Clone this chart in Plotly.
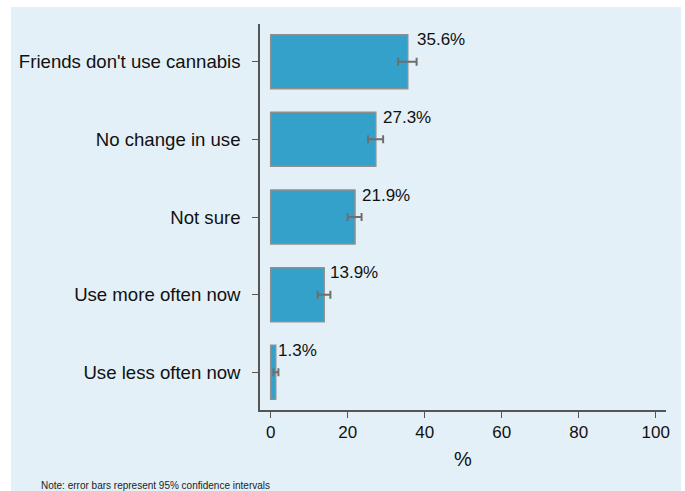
import plotly.graph_objects as go

# Responses and survey estimates (percent) with 95% CI bounds
categories = ["Friends don't use cannabis", "No change in use", "Not sure",
              "Use more often now", "Use less often now"]
values = [35.6, 27.3, 21.9, 13.9, 1.3]
ci_low = [33.1, 25.3, 20.0, 12.2, 0.7]
ci_high = [37.9, 29.2, 23.6, 15.5, 2.0]
x_ticks = [0, 20, 40, 60, 80, 100]
note_text = "Note: error bars represent 95% confidence intervals"

W, H = 685, 491
L, R, T, B = 260, 19, 24, 81

err_plus = [h - v for h, v in zip(ci_high, values)]
err_minus = [v - lo for v, lo in zip(values, ci_low)]

fig = go.Figure()
fig.add_trace(go.Bar(
    y=categories, x=values, orientation="h", width=0.695,
    marker=dict(color="#33a1c9", line=dict(color="#8f8f8f", width=1.5)),
    error_x=dict(type="data", symmetric=False, array=err_plus, arrayminus=err_minus,
                 color="#6e6e6e", thickness=2, width=4),
    hoverinfo="skip", showlegend=False,
))

# Value labels at the upper end of each confidence interval
for cat, v, hi in zip(categories, values, ci_high):
    fig.add_annotation(x=hi, y=cat, text=f"{v:.1f}%", showarrow=False,
                       xanchor="left", yanchor="middle", xshift=-2, yshift=22,
                       font=dict(family="Liberation Sans, Arial", size=17, color="#111111"))

fig.add_annotation(xref="paper", yref="paper", x=(39 - L) / (W - L - R),
                   y=-(485 - (H - B)) / (H - T - B),
                   text=note_text, showarrow=False, xanchor="left", yanchor="middle",
                   font=dict(family="Liberation Sans, Arial", size=10, color="#222222"))

# Light blue panel behind the whole chart
pw, ph = W - L - R, H - T - B
fig.add_shape(type="rect", xref="paper", yref="paper", layer="below",
              x0=(11 - L) / pw, x1=(681 - L) / pw,
              y0=-(H - (H - B)) / ph, y1=(H - B - 7) / ph,
              fillcolor="#e4f0f7", line=dict(width=0))

fig.update_layout(
    width=W, height=H,
    margin=dict(l=L, r=R, t=T, b=B),
    paper_bgcolor="white", plot_bgcolor="white",
    font=dict(family="Liberation Sans, Arial", size=17, color="#111111"),
    xaxis=dict(range=[-2.78, 102.68], tickvals=x_ticks, ticks="outside", ticklen=6,
               tickcolor="#555555", showline=True, linecolor="#555555", linewidth=1.5,
               showgrid=False, zeroline=False,
               title=dict(text="%", standoff=11),
               tickfont=dict(size=17)),
    yaxis=dict(range=[4.485, -0.485], ticks="outside", ticklen=6, tickcolor="#555555",
               showline=True, linecolor="#555555", linewidth=1.5,
               showgrid=True, gridcolor="#e6eff4", gridwidth=2, zeroline=False,
               ticklabelstandoff=8, tickfont=dict(size=18.6)),
)

fig.write_html("out.html")
